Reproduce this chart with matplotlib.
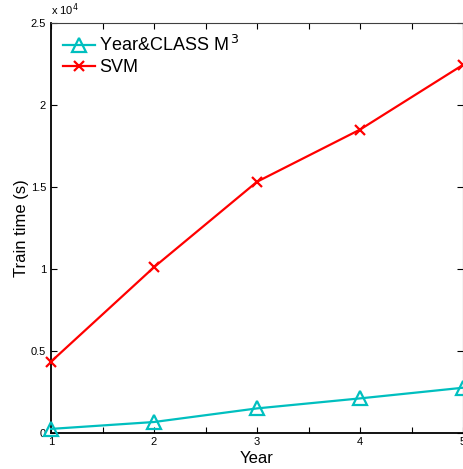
import matplotlib
matplotlib.use("Agg")
import matplotlib.pyplot as plt
from matplotlib.ticker import FuncFormatter, MultipleLocator

years = [1, 2, 3, 4, 5]
year_class_m3 = [250, 670, 1500, 2110, 2760]
svm = [4350, 10110, 15320, 18500, 22450]

plt.rcParams['font.family'] = ['Liberation Sans', 'DejaVu Sans']

fig = plt.figure(figsize=(4.63, 4.69), dpi=100)
ax = fig.add_axes([51/463, 1-433/469, 412/463, 410/469])

ax.plot(years, year_class_m3, color='#00BFBF', lw=1.6, marker='^', markersize=10,
        markerfacecolor='none', markeredgewidth=1.6, label='Year&CLASS M$^{\\,3}$', clip_on=False, zorder=3)
ax.plot(years, svm, color='#FF0000', lw=1.6, marker='x', markersize=7,
        markeredgewidth=1.6, label='SVM', clip_on=False, zorder=3)

ax.set_xlim(1, 5)
ax.set_ylim(0, 25000)
ax.xaxis.set_major_locator(MultipleLocator(1))
ax.xaxis.set_minor_locator(MultipleLocator(0.5))
ax.yaxis.set_major_locator(MultipleLocator(5000))
ax.yaxis.set_major_formatter(FuncFormatter(lambda v, p: f"{v/1e4:g}"))

ax.tick_params(which='both', direction='in', top=True, right=True, labelsize=8, width=0.8)
ax.tick_params(which='major', length=4)
ax.tick_params(which='minor', length=4)
ax.tick_params(axis='x', pad=3)
for s in ['left', 'bottom']:
    ax.spines[s].set_linewidth(1.3)
for s in ['top', 'right']:
    ax.spines[s].set_linewidth(0.8)
    ax.spines[s].set_color('#404040')

ax.set_xlabel('Year', fontsize=12, labelpad=3)
ax.set_ylabel('Train time (s)', fontsize=12, labelpad=1)

ax.text(0.0, 1.012, 'x 10$^{4}$', transform=ax.transAxes, fontsize=8, ha='left', va='bottom')

ax.legend(loc='upper left', frameon=False, fontsize=13, handlelength=1.8,
          handletextpad=0.2, borderaxespad=0.25, labelspacing=0.25, bbox_to_anchor=(0.0, 1.0))

fig.savefig('out.png', dpi=100)
